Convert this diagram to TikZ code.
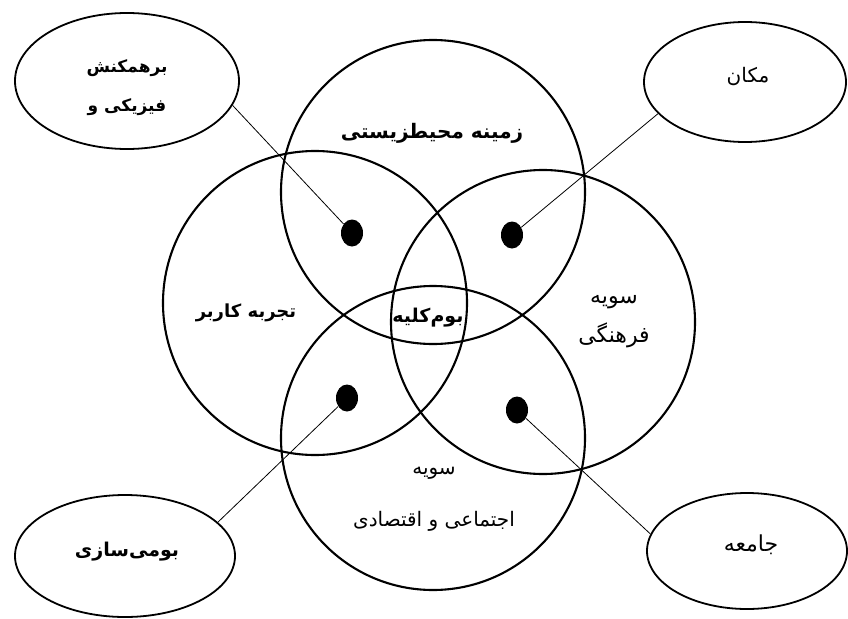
\documentclass[tikz,border=0pt]{standalone}
\usepackage{fontspec}
\TeXXeTstate=1
\newfontfamily\arabicfont[Script=Arabic]{DejaVu Sans}
\usetikzlibrary{shapes.geometric}
\begin{document}
\begin{tikzpicture}[x=1pt,y=-1pt,
  venn/.style={circle,draw,line width=2.1pt,minimum size=304pt,inner sep=0pt},
  blob/.style={ellipse,fill=black,minimum width=22pt,minimum height=27pt,inner sep=0pt},
  oval/.style={ellipse,draw,line width=1.8pt,inner sep=0pt},
  lbl/.style={align=center,inner sep=0pt},
  link/.style={line width=0.8pt}]
\useasboundingbox (0,0) rectangle (848,618);
\fill[white] (0,0) rectangle (848,618);
% circles
\node[venn] (ctop) at (433,192) {};
\node[venn] (cleft) at (315,303) {};
\node[venn] (cright) at (543,322) {};
\node[venn] (cbot) at (433,438) {};
% circle labels
\node[lbl,font=\arabicfont\bfseries\fontsize{20}{38}\selectfont] (ltop) at (432,133) {\beginR زمینه محیطزیستی\endR};
\node[lbl,font=\arabicfont\bfseries\fontsize{18}{38}\selectfont] (lleft) at (246,313) {\beginR تجربه کاربر\endR};
\node[lbl,font=\arabicfont\fontsize{22}{39}\selectfont] (lright) at (614,322) {\beginR سویه\endR\\\beginR فرهنگی\endR};
\node[lbl,font=\arabicfont\fontsize{20}{52}\selectfont] (lbot) at (434,499) {\beginR سویه\endR\\\beginR اجتماعی و اقتصادی\endR};
\node[lbl,font=\arabicfont\bfseries\fontsize{19}{20}\selectfont] (lcen) at (428,318) {\beginR بوم‌کلیه\endR};
% dots
\node[blob] (d1) at (352,233) {};
\node[blob] (d2) at (512,235) {};
\node[blob] (d3) at (347,398) {};
\node[blob] (d4) at (517,410) {};
% outer ellipses
\node[oval,minimum width=224pt,minimum height=136pt] (tl) at (127,81) {};
\node[oval,minimum width=202pt,minimum height=120pt] (tr) at (745,82) {};
\node[oval,minimum width=220pt,minimum height=122pt] (bl) at (125,556) {};
\node[oval,minimum width=200pt,minimum height=116pt] (br) at (747,551) {};
% ellipse labels
\node[lbl,font=\arabicfont\bfseries\fontsize{17}{39}\selectfont] (ttl) at (127,88) {\beginR برهمکنش\endR\\\beginR فیزیکی و\endR};
\node[lbl,font=\arabicfont\fontsize{20}{39}\selectfont] (ttr) at (748,77) {\beginR مکان\endR};
\node[lbl,font=\arabicfont\bfseries\fontsize{19}{39}\selectfont] (tbl) at (127,552) {\beginR بومی‌سازی\endR};
\node[lbl,font=\arabicfont\fontsize{22}{39}\selectfont] (tbr) at (751,545) {\beginR جامعه\endR};
% connectors
\draw[link] (tl.-13) -- (d1);
\draw[link] (tr.200) -- (d2);
\draw[link] (bl.20) -- (d3);
\draw[link] (br.170) -- (d4);
\end{tikzpicture}
\end{document}
